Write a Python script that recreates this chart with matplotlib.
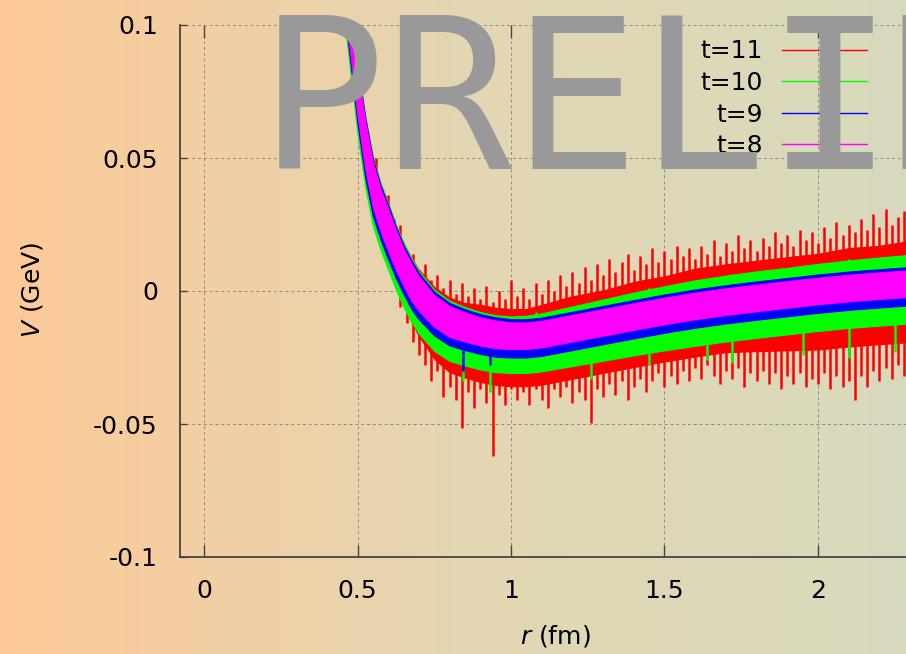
import numpy as np
import matplotlib.pyplot as plt
from matplotlib.lines import Line2D

# static potential V(r) (GeV) against r (fm), one band per time slice
r_knots = [0.45, 0.475, 0.50, 0.525, 0.55, 0.575, 0.60, 0.625, 0.65, 0.675,
           0.70, 0.75, 0.80, 0.85, 0.90, 0.95, 1.00, 1.05, 1.10, 1.20,
           1.30, 1.40, 1.50, 1.60, 1.70, 1.80, 1.90, 2.00, 2.10, 2.20,
           2.30, 2.40, 2.50]
v_mid = [0.125, 0.100, 0.075, 0.055, 0.040, 0.0305, 0.023, 0.0155, 0.009, 0.0035,
         -0.001, -0.0075, -0.0115, -0.0135, -0.0152, -0.0163, -0.0168, -0.0168, -0.0162, -0.0140,
         -0.0118, -0.0096, -0.0075, -0.0056, -0.0040, -0.0026, -0.0013, 0.0000, 0.0011, 0.0020,
         0.0028, 0.0034, 0.0040]

# error band half-widths (upper / lower) on the same r knots
err_up = {
    "t=11": [0.010, 0.010, 0.010, 0.010, 0.010, 0.010, 0.010, 0.009, 0.009, 0.009,
             0.009, 0.009, 0.009, 0.009, 0.010, 0.010, 0.010, 0.010, 0.011, 0.012,
             0.012, 0.013, 0.013, 0.014, 0.014, 0.014, 0.014, 0.014, 0.015, 0.015,
             0.016, 0.016, 0.016],
    "t=10": [0.011, 0.011, 0.011, 0.011, 0.0105, 0.010, 0.010, 0.0095, 0.009, 0.009,
             0.0085, 0.008, 0.0078, 0.0075, 0.0073, 0.0072, 0.0072, 0.0075, 0.0078, 0.0082,
             0.0086, 0.009, 0.0093, 0.0096, 0.0098, 0.010, 0.010, 0.0102, 0.0104, 0.0106,
             0.0108, 0.011, 0.011],
    "t=9": [0.0102, 0.0102, 0.0102, 0.0102, 0.0097, 0.0092, 0.0092, 0.0087, 0.0082, 0.0082,
            0.0077, 0.0072, 0.0070, 0.0067, 0.0065, 0.0064, 0.0062, 0.0062, 0.0062, 0.0062,
            0.0062, 0.0062, 0.0062, 0.0062, 0.0062, 0.0062, 0.0062, 0.0062, 0.0062, 0.0062,
            0.0062, 0.0062, 0.0062],
    "t=8": [0.009, 0.009, 0.009, 0.009, 0.0085, 0.008, 0.008, 0.0075, 0.007, 0.007,
            0.0065, 0.006, 0.0058, 0.0055, 0.0053, 0.0052, 0.005, 0.005, 0.005, 0.005,
            0.005, 0.005, 0.005, 0.005, 0.005, 0.005, 0.005, 0.005, 0.005, 0.005,
            0.005, 0.005, 0.005],
}
err_dn = {
    "t=11": [0.011, 0.011, 0.011, 0.011, 0.011, 0.012, 0.012, 0.013, 0.014, 0.015,
             0.016, 0.018, 0.019, 0.019, 0.019, 0.019, 0.019, 0.019, 0.019, 0.019,
             0.019, 0.019, 0.019, 0.019, 0.019, 0.020, 0.021, 0.022, 0.022, 0.022,
             0.022, 0.021, 0.021],
    "t=10": [0.016, 0.016, 0.016, 0.016, 0.0155, 0.015, 0.015, 0.015, 0.015, 0.015,
             0.015, 0.015, 0.0148, 0.0145, 0.0143, 0.0142, 0.014, 0.014, 0.014, 0.0142,
             0.0144, 0.0146, 0.0148, 0.015, 0.015, 0.015, 0.015, 0.015, 0.015, 0.015,
             0.015, 0.015, 0.015],
    "t=9": [0.0122, 0.0122, 0.0122, 0.0122, 0.0117, 0.0112, 0.0112, 0.0107, 0.0102, 0.0102,
            0.0097, 0.0092, 0.0090, 0.0087, 0.0085, 0.0084, 0.0082, 0.0082, 0.0082, 0.0082,
            0.0082, 0.0082, 0.0082, 0.0082, 0.0082, 0.0082, 0.0082, 0.0082, 0.0082, 0.0082,
            0.0082, 0.0082, 0.0082],
    "t=8": [0.009, 0.009, 0.009, 0.009, 0.0085, 0.008, 0.008, 0.0075, 0.007, 0.007,
            0.0065, 0.006, 0.0058, 0.0055, 0.0053, 0.0052, 0.005, 0.005, 0.005, 0.005,
            0.005, 0.005, 0.005, 0.005, 0.005, 0.005, 0.005, 0.005, 0.005, 0.005,
            0.005, 0.005, 0.005],
}

# individual t=11 error bars reaching out of the band
red_bar_r = [0.56, 0.58, 0.60, 0.62, 0.64, 0.66, 0.68, 0.70, 0.72, 0.74,
             0.76, 0.78, 0.80, 0.82, 0.84, 0.86, 0.88, 0.90, 0.92, 0.94,
             0.96, 0.98, 1.00, 1.02, 1.04, 1.06, 1.08, 1.10, 1.12, 1.14,
             1.16, 1.18, 1.20, 1.22, 1.24, 1.26, 1.28, 1.30, 1.32, 1.34,
             1.36, 1.38, 1.40, 1.42, 1.44, 1.46, 1.48, 1.50, 1.52, 1.54,
             1.56, 1.58, 1.60, 1.62, 1.64, 1.66, 1.68, 1.70, 1.72, 1.74,
             1.76, 1.78, 1.80, 1.82, 1.84, 1.86, 1.88, 1.90, 1.92, 1.94,
             1.96, 1.98, 2.00, 2.02, 2.04, 2.06, 2.08, 2.10, 2.12, 2.14,
             2.16, 2.18, 2.20, 2.22, 2.24, 2.26, 2.28, 2.30, 2.32, 2.34,
             2.36, 2.38, 2.40, 2.42, 2.44]
red_bar_hi = [0.050, 0.038, 0.036, 0.027, 0.025, 0.015, 0.014, 0.008, 0.010, 0.004,
              0.006, 0.001, 0.004, -0.001, 0.003, -0.002, 0.001, -0.003, 0.002, -0.004,
              0.000, -0.003, 0.004, -0.002, 0.001, -0.003, 0.003, -0.001, 0.004, 0.000,
              0.006, 0.002, 0.007, 0.003, 0.009, 0.004, 0.010, 0.006, 0.012, 0.007,
              0.011, 0.014, 0.008, 0.013, 0.010, 0.016, 0.011, 0.015, 0.012, 0.017,
              0.013, 0.016, 0.012, 0.017, 0.014, 0.019, 0.013, 0.018, 0.015, 0.021,
              0.016, 0.019, 0.015, 0.020, 0.017, 0.022, 0.018, 0.021, 0.017, 0.023,
              0.019, 0.022, 0.018, 0.024, 0.020, 0.026, 0.021, 0.025, 0.022, 0.027,
              0.023, 0.029, 0.024, 0.031, 0.025, 0.028, 0.030, 0.025, 0.029, 0.026,
              0.030, 0.027, 0.029, 0.026, 0.028]
red_bar_lo = [0.024, 0.016, 0.009, 0.003, -0.006, -0.012, -0.019, -0.024, -0.028, -0.034,
              -0.030, -0.040, -0.036, -0.041, -0.0515, -0.038, -0.044, -0.037, -0.042, -0.062,
              -0.039, -0.043, -0.037, -0.041, -0.038, -0.043, -0.037, -0.041, -0.044, -0.037,
              -0.040, -0.036, -0.042, -0.038, -0.041, -0.0495, -0.037, -0.040, -0.035, -0.039,
              -0.034, -0.041, -0.036, -0.033, -0.038, -0.034, -0.031, -0.036, -0.032, -0.035,
              -0.030, -0.034, -0.029, -0.033, -0.028, -0.032, -0.035, -0.030, -0.033, -0.029,
              -0.036, -0.031, -0.034, -0.030, -0.035, -0.031, -0.037, -0.032, -0.035, -0.031,
              -0.036, -0.033, -0.035, -0.031, -0.037, -0.032, -0.036, -0.034, -0.041, -0.032,
              -0.036, -0.030, -0.034, -0.029, -0.033, -0.028, -0.032, -0.029, -0.033, -0.028,
              -0.031, -0.027, -0.032, -0.028, -0.030]

green_bar_r = [0.845, 0.93, 1.08, 1.26, 1.45, 1.64, 1.72, 1.95, 2.10, 2.25]
green_bar_lo = [-0.034, -0.038, -0.030, -0.033, -0.028, -0.026, -0.027, -0.024, -0.025, -0.023]
green_bar_hi = [-0.008, -0.010, -0.008, -0.005, 0.001, 0.004, 0.006, 0.009, 0.012, 0.013]

blue_bar_r = [0.845, 0.93]
blue_bar_lo = [-0.030, -0.028]
blue_bar_hi = [-0.010, -0.012]

labels = ["t=11", "t=10", "t=9", "t=8"]
colors = {"t=11": "#ff0000", "t=10": "#00ff00", "t=9": "#0000ff", "t=8": "#ff00ff"}
bars = {"t=11": (red_bar_r, red_bar_lo, red_bar_hi),
        "t=10": (green_bar_r, green_bar_lo, green_bar_hi),
        "t=9": (blue_bar_r, blue_bar_lo, blue_bar_hi)}

W, H = 906, 654
fig = plt.figure(figsize=(W / 100, H / 100), dpi=100)

# orange -> pale olive background
bg = fig.add_axes([0, 0, 1, 1], zorder=-5)
stops_x = [0.0, 0.5, 1.0]
stops_c = np.array([[254, 201, 152], [228, 214, 178], [216, 218, 189]]) / 255.0
xs = np.linspace(0, 1, 400)
grad = np.stack([np.interp(xs, stops_x, stops_c[:, k]) for k in range(3)], axis=-1)
bg.imshow(grad[None, :, :], aspect="auto", extent=[0, 1, 0, 1])
bg.axis("off")

ax = fig.add_axes([180 / W, 97 / H, 791.5 / W, 532 / H])
ax.set_facecolor("none")

r = np.array(r_knots)
mid = np.array(v_mid)
# larger t first, each later band sits on top of the previous one
for i, lab in enumerate(labels):
    z = 2 + i
    lo = mid - np.array(err_dn[lab])
    hi = mid + np.array(err_up[lab])
    ax.fill_between(r, lo, hi, color=colors[lab], lw=0.8, edgecolor=colors[lab], zorder=z)
    if lab in bars:
        br, blo, bhi = bars[lab]
        ax.vlines(br, blo, bhi, color=colors[lab], lw=1.8, zorder=z + 0.1)

ax.set_xlim(-24 / 307, 2.5)
ax.set_ylim(-0.1, 0.1)
ax.set_xticks([0, 0.5, 1, 1.5, 2])
ax.set_xticklabels(["0", "0.5", "1", "1.5", "2"])
ax.set_yticks([-0.1, -0.05, 0, 0.05, 0.1])
ax.set_yticklabels(["-0.1", "-0.05", "0", "0.05", "0.1"])
ax.grid(True, color="#777777", lw=0.7, ls=(0, (3, 3)), alpha=0.8)

for s in ("top", "right"):
    ax.spines[s].set_visible(False)
for s in ("left", "bottom"):
    ax.spines[s].set_color("#444444")
    ax.spines[s].set_linewidth(1.3)

ax.tick_params(axis="x", direction="in", length=9, width=1, color="#444444",
               labelsize=18, pad=16, top=True)
ax.tick_params(axis="y", direction="in", length=5, width=1, color="#444444",
               labelsize=18, pad=16)

ax.set_xlabel(r"$r$ (fm)", fontsize=18, va="center")
ax.set_ylabel(r"$V$ (GeV)", fontsize=18, va="center")
ax.xaxis.set_label_coords(555 / W, 1 - 636 / H, transform=fig.transFigure)
ax.yaxis.set_label_coords(32 / W, 1 - 290 / H, transform=fig.transFigure)

handles = [Line2D([], [], color=colors[lab], lw=1) for lab in labels]
ax.legend(handles, labels, loc="upper right", frameon=False, markerfirst=False,
          fontsize=18, handlelength=3.4, handletextpad=0.75, labelspacing=0.3,
          borderpad=0, bbox_to_anchor=(879 / W, 1 - 27 / H),
          bbox_transform=fig.transFigure)

fig.text(259 / W, 1 - 169 / H, "PRELIMINARY", family="DejaVu Sans Mono",
         fontsize=152, color="#999999", va="baseline", ha="left", zorder=10)

fig.savefig("out.png", dpi=100)
